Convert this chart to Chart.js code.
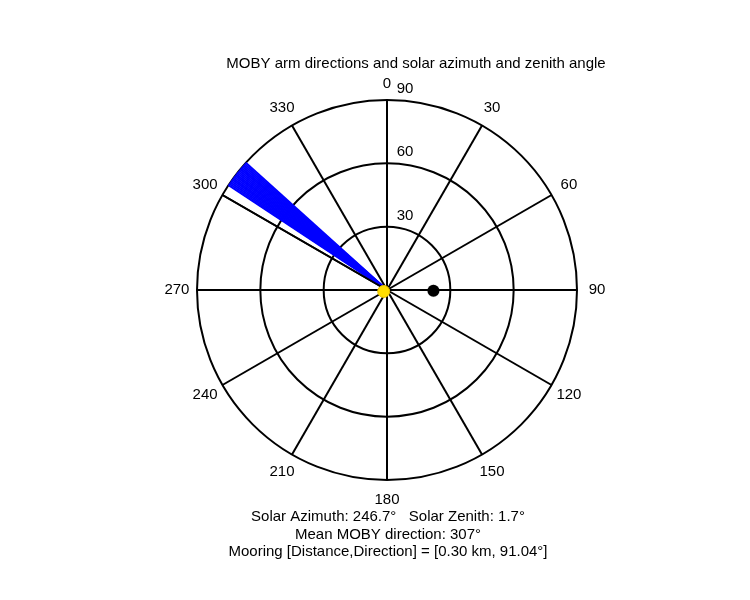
<!DOCTYPE html>
<html><head><meta charset="utf-8">
<script src="https://cdn.jsdelivr.net/npm/chart.js@4"></script>
<style>body{margin:0;background:#fff}#c{display:block}</style>
</head><body>
<div style="width:750px;height:600px"><canvas id="c" width="750" height="600"></canvas></div>
<script>
// MOBY arm directions (deg, compass) and zenith radius
var armDirections = [303.5, 304, 304.5, 305, 305.5, 306, 306.5, 307, 307.5, 308, 308.5, 309, 309.5, 310, 310.5, 311, 311.5, 312];
var armRadius = 90;
var meanDirection = [300];
var sunPoint = {azimuth: 246.7, zenith: 1.7};
var mooringPoint = {direction: 91.04, r: 22};
var ringValues = [30, 60, 90];
var spokeAngles = [0, 30, 60, 90, 120, 150, 180, 210, 240, 270, 300, 330];

function toXY(deg, r){
  var a = deg*Math.PI/180;
  return {x: r*Math.sin(a), y: r*Math.cos(a)};
}

var datasets = [];
armDirections.forEach(function(d){
  datasets.push({type:"line", data:[toXY(d,0), toXY(d,armRadius)], borderColor:"#0000ff", borderWidth:2, pointRadius:0, order:2});
});
// blue fill between fan edges
datasets.push({type:"line", data:[toXY(armDirections[0],0)].concat(armDirections.map(function(d){return toXY(d,armRadius);})).concat([toXY(armDirections[0],0)]),
  borderColor:"#0000ff", backgroundColor:"#0000ff", fill:true, borderWidth:1, pointRadius:0, order:2});
datasets.push({type:"line", data:[toXY(meanDirection[0],0), toXY(meanDirection[0],armRadius)], borderColor:"#000", borderWidth:2, pointRadius:0, order:1});
datasets.push({type:"scatter", data:[toXY(mooringPoint.direction, mooringPoint.r)], backgroundColor:"#000", pointRadius:6, order:0});
datasets.push({type:"scatter", data:[toXY(sunPoint.azimuth, sunPoint.zenith)], backgroundColor:"#ffdd00", borderColor:"#e8c000", pointRadius:6, order:0});

var FONT = "15px 'Liberation Sans', Arial, sans-serif";

var polarGrid = {
  id:"polarGrid",
  beforeDatasetsDraw: function(chart){
    var ctx = chart.ctx, xs = chart.scales.x, ys = chart.scales.y;
    var cx = xs.getPixelForValue(0), cy = ys.getPixelForValue(0);
    var R = xs.getPixelForValue(90) - cx, Ry = cy - ys.getPixelForValue(90);
    ctx.save();
    ctx.strokeStyle = "#000"; ctx.lineWidth = 2;
    ringValues.forEach(function(v){
      ctx.beginPath();
      ctx.ellipse(cx, cy, R*v/90, Ry*v/90, 0, 0, 2*Math.PI);
      ctx.stroke();
    });
    spokeAngles.forEach(function(d){
      if (d >= 180) return;
      var p = toXY(d, 90);
      ctx.beginPath();
      ctx.moveTo(xs.getPixelForValue(p.x), ys.getPixelForValue(p.y));
      ctx.lineTo(xs.getPixelForValue(-p.x), ys.getPixelForValue(-p.y));
      ctx.stroke();
    });
    ctx.fillStyle = "#000";
    ctx.font = FONT;
    ctx.textAlign = "center"; ctx.textBaseline = "middle";
    spokeAngles.forEach(function(d){
      var p = toXY(d, 99.5);
      var dy = d === 0 ? 4 : 0;
      ctx.fillText(String(d), xs.getPixelForValue(p.x), ys.getPixelForValue(p.y) + dy);
    });
    ringValues.forEach(function(v){
      ctx.fillText(String(v), cx + 18, ys.getPixelForValue(v) - 11);
    });
    ctx.restore();
  },
  afterDraw: function(chart){
    var ctx = chart.ctx;
    ctx.save();
    ctx.fillStyle = "#000";
    ctx.font = FONT;
    ctx.textAlign = "center"; ctx.textBaseline = "middle";
    ctx.fillText("MOBY arm directions and solar azimuth and zenith angle", 416, 64);
    ctx.fillText("Solar Azimuth: " + sunPoint.azimuth.toFixed(1) + "\u00b0   Solar Zenith: " + sunPoint.zenith.toFixed(1) + "\u00b0", 388, 517);
    ctx.fillText("Mean MOBY direction: 307\u00b0", 388, 535);
    ctx.fillText("Mooring [Distance,Direction] = [0.30 km, " + mooringPoint.direction.toFixed(2) + "\u00b0]", 388, 552);
    ctx.restore();
  }
};

new Chart(document.getElementById("c"), {
  type: "scatter",
  data: {datasets: datasets},
  options: {
    responsive: false, animation: false,
    layout: {padding: {left: 197, right: 173, top: 100, bottom: 120}},
    plugins: {legend: {display: false}, tooltip: {enabled: false}},
    scales: {
      x: {type: "linear", min: -90, max: 90, display: false},
      y: {type: "linear", min: -90, max: 90, display: false}
    }
  },
  plugins: [polarGrid]
});
</script>
</body></html>
